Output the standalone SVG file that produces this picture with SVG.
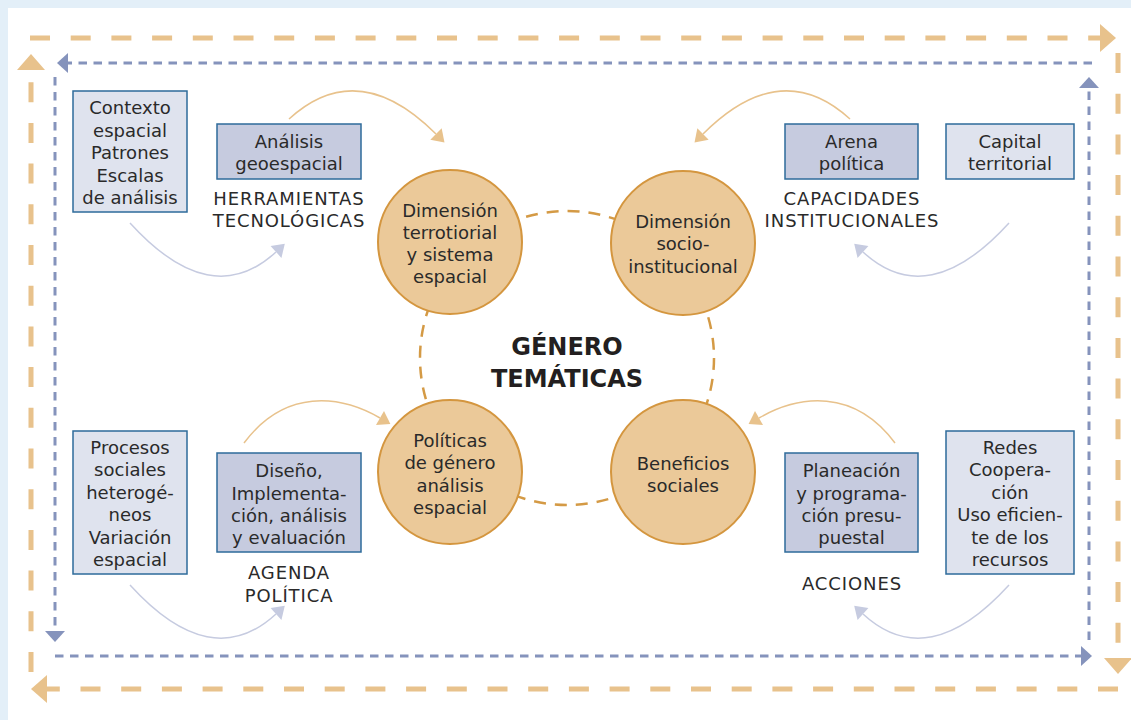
<svg xmlns="http://www.w3.org/2000/svg" width="1131" height="720" viewBox="0 0 1131 720">
  <defs>
    <style>
      .t { font-family: "DejaVu Sans", "Noto Sans", sans-serif; font-size: 18px; fill: #2a2a2a; text-anchor: middle; }
      .cap { letter-spacing: 0.9px; }
      .title { font-family: "DejaVu Sans", "Noto Sans", sans-serif; font-size: 24px; font-weight: bold; fill: #231f20; text-anchor: middle; }
      .boxL { fill: #dfe3ee; stroke: #2e6b9b; stroke-width: 1.5; }
      .boxD { fill: #c6cbdf; stroke: #2e6b9b; stroke-width: 1.5; }
      .circ { fill: #ebc999; stroke: #d4963f; stroke-width: 2; }
      .outer { fill: none; stroke: #e8c28c; stroke-width: 5; stroke-dasharray: 20 20.7; }
      .inner { fill: none; stroke: #8593bc; stroke-width: 3; stroke-dasharray: 8.5 6.5; }
      .arcO { fill: none; stroke: #e8c28c; stroke-width: 1.5; }
      .arcL { fill: none; stroke: #c6cbe0; stroke-width: 1.5; }
    </style>
    <marker id="mO" markerUnits="userSpaceOnUse" markerWidth="16" markerHeight="28" refX="0" refY="14" orient="auto" overflow="visible">
      <path d="M0,0 L16,14 L0,28 z" fill="#e8c28c"/>
    </marker>
    <marker id="mB" markerUnits="userSpaceOnUse" markerWidth="11" markerHeight="20" refX="0" refY="10" orient="auto" overflow="visible">
      <path d="M0,0 L11,10 L0,20 z" fill="#8593bc"/>
    </marker>
    <marker id="mAO" markerUnits="userSpaceOnUse" markerWidth="12" markerHeight="16" refX="0" refY="8" orient="auto" overflow="visible">
      <path d="M0,0 L12,8 L0,16 z" fill="#e8c28c"/>
    </marker>
    <marker id="mAL" markerUnits="userSpaceOnUse" markerWidth="12" markerHeight="16" refX="0" refY="8" orient="auto" overflow="visible">
      <path d="M0,0 L12,8 L0,16 z" fill="#c6cbe0"/>
    </marker>
  </defs>

  <rect x="0" y="0" width="1131" height="720" fill="#e3eff8"/>
  <rect x="8" y="8" width="1123" height="712" fill="#ffffff"/>

  <g id="connectors">
    <!-- outer orange cycle -->
    <line class="outer" x1="30" y1="38" x2="1100" y2="38" marker-end="url(#mO)"/>
    <line class="outer" x1="1118" y1="53" x2="1118" y2="658" marker-end="url(#mO)"/>
    <line class="outer" x1="1118" y1="689" x2="47" y2="689" marker-end="url(#mO)"/>
    <line class="outer" x1="31" y1="672" x2="31" y2="70" marker-end="url(#mO)"/>
    <!-- inner blue cycle -->
    <line class="inner" x1="1092" y1="63" x2="68" y2="63" marker-end="url(#mB)"/>
    <line class="inner" x1="55" y1="77" x2="55" y2="631" marker-end="url(#mB)"/>
    <line class="inner" x1="55" y1="656" x2="1081" y2="656" marker-end="url(#mB)"/>
    <line class="inner" x1="1089" y1="640" x2="1089" y2="88" marker-end="url(#mB)"/>
    <!-- dashed central circle -->
    <circle cx="567" cy="358" r="147" fill="none" stroke="#d49a45" stroke-width="2.5" stroke-dasharray="12 9"/>
    <!-- curved arrows -->
    <path class="arcO" d="M289,119 Q358,56 436,134" marker-end="url(#mAO)"/>
    <path class="arcL" d="M130,223 Q211,312 276,252" marker-end="url(#mAL)"/>
    <path class="arcO" d="M850,119 Q781,56 703,134" marker-end="url(#mAO)"/>
    <path class="arcL" d="M1009,223 Q928,312 863,252" marker-end="url(#mAL)"/>
    <path class="arcO" d="M244,443 C285,388 340,395 380,418" marker-end="url(#mAO)"/>
    <path class="arcL" d="M130,585 Q211,674 276,614" marker-end="url(#mAL)"/>
    <path class="arcO" d="M895,443 C854,388 799,395 759,418" marker-end="url(#mAO)"/>
    <path class="arcL" d="M1009,585 Q928,674 863,614" marker-end="url(#mAL)"/>
  </g>

  <g id="center">
    <text class="title" x="567" y="355">GÉNERO</text>
    <text class="title" x="567" y="387">TEMÁTICAS</text>
  </g>

  <g id="c1">
    <circle class="circ" cx="450" cy="242" r="72"/>
    <text class="t" x="450" y="217">Dimensión</text>
    <text class="t" x="450" y="239">terrotiorial</text>
    <text class="t" x="450" y="261">y sistema</text>
    <text class="t" x="450" y="283">espacial</text>
  </g>
  <g id="c2">
    <circle class="circ" cx="683" cy="243" r="72"/>
    <text class="t" x="683" y="228">Dimensión</text>
    <text class="t" x="683" y="250">socio-</text>
    <text class="t" x="683" y="273">institucional</text>
  </g>
  <g id="c3">
    <circle class="circ" cx="450" cy="472" r="72"/>
    <text class="t" x="450" y="447">Políticas</text>
    <text class="t" x="450" y="469">de género</text>
    <text class="t" x="450" y="492">análisis</text>
    <text class="t" x="450" y="514">espacial</text>
  </g>
  <g id="c4">
    <circle class="circ" cx="683" cy="472" r="72"/>
    <text class="t" x="683" y="470">Beneficios</text>
    <text class="t" x="683" y="492">sociales</text>
  </g>

  <g id="b1">
    <rect class="boxL" x="73" y="91" width="114" height="121"/>
    <text class="t" x="130" y="114">Contexto</text>
    <text class="t" x="130" y="137">espacial</text>
    <text class="t" x="130" y="159">Patrones</text>
    <text class="t" x="130" y="182">Escalas</text>
    <text class="t" x="130" y="204">de análisis</text>
  </g>
  <g id="b2">
    <rect class="boxD" x="217" y="124" width="144" height="55"/>
    <text class="t" x="289" y="148">Análisis</text>
    <text class="t" x="289" y="170">geoespacial</text>
  </g>
  <g id="l1">
    <text class="t cap" x="289" y="205">HERRAMIENTAS</text>
    <text class="t cap" x="289" y="227">TECNOLÓGICAS</text>
  </g>
  <g id="b3">
    <rect class="boxD" x="785" y="124" width="133" height="55"/>
    <text class="t" x="851.5" y="148">Arena</text>
    <text class="t" x="851.5" y="170">política</text>
  </g>
  <g id="b4">
    <rect class="boxL" x="946" y="124" width="128" height="55"/>
    <text class="t" x="1010" y="148">Capital</text>
    <text class="t" x="1010" y="170">territorial</text>
  </g>
  <g id="l2">
    <text class="t cap" x="852" y="205">CAPACIDADES</text>
    <text class="t cap" x="852" y="227">INSTITUCIONALES</text>
  </g>
  <g id="b5">
    <rect class="boxL" x="73" y="431" width="114" height="143"/>
    <text class="t" x="130" y="454">Procesos</text>
    <text class="t" x="130" y="476">sociales</text>
    <text class="t" x="130" y="499">heterogé-</text>
    <text class="t" x="130" y="521">neos</text>
    <text class="t" x="130" y="544">Variación</text>
    <text class="t" x="130" y="566">espacial</text>
  </g>
  <g id="b6">
    <rect class="boxD" x="217" y="453" width="144" height="99"/>
    <text class="t" x="289" y="477">Diseño,</text>
    <text class="t" x="289" y="500">Implementa-</text>
    <text class="t" x="289" y="522">ción, análisis</text>
    <text class="t" x="289" y="544">y evaluación</text>
  </g>
  <g id="l3">
    <text class="t cap" x="289" y="579">AGENDA</text>
    <text class="t cap" x="289" y="602">POLÍTICA</text>
  </g>
  <g id="b7">
    <rect class="boxD" x="785" y="453" width="133" height="99"/>
    <text class="t" x="851.5" y="477">Planeación</text>
    <text class="t" x="851.5" y="500">y programa-</text>
    <text class="t" x="851.5" y="522">ción presu-</text>
    <text class="t" x="851.5" y="544">puestal</text>
  </g>
  <g id="l4">
    <text class="t cap" x="852" y="590">ACCIONES</text>
  </g>
  <g id="b8">
    <rect class="boxL" x="946" y="431" width="128" height="143"/>
    <text class="t" x="1010" y="454">Redes</text>
    <text class="t" x="1010" y="476">Coopera-</text>
    <text class="t" x="1010" y="499">ción</text>
    <text class="t" x="1010" y="521">Uso eficien-</text>
    <text class="t" x="1010" y="544">te de los</text>
    <text class="t" x="1010" y="566">recursos</text>
  </g>
</svg>
